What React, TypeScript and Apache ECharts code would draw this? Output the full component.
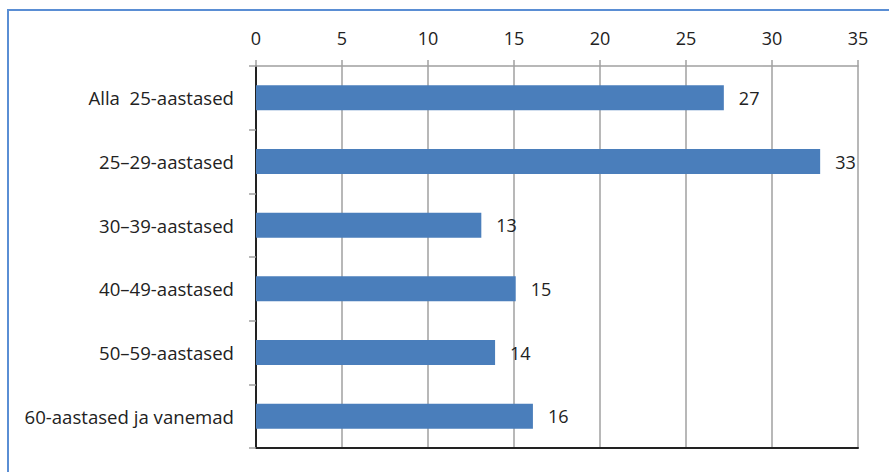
import React, { useEffect, useRef } from "react";
import * as echarts from "echarts";

const categories = [
  "Alla  25-aastased",
  "25–29-aastased",
  "30–39-aastased",
  "40–49-aastased",
  "50–59-aastased",
  "60-aastased ja vanemad",
];
const values = [27.2, 32.8, 13.1, 15.1, 13.9, 16.1];
const axisMin = 0;
const axisMax = 35;
const axisStep = 5;

const FONT = "Open Sans";
const FS = 18;

export default function App() {
  const ref = useRef<HTMLDivElement>(null);
  useEffect(() => {
    if (!ref.current) return;
    const chart = echarts.init(ref.current, null, { renderer: "svg" });
    chart.setOption({
      animation: false,
      backgroundColor: "#ffffff",
      textStyle: { fontFamily: FONT },
      graphic: [
        {
          type: "rect",
          shape: { x: 8, y: 10, width: 1000, height: 1000 },
          style: { fill: "none", stroke: "#5A8ED4", lineWidth: 2 },
          silent: true,
        },
      ],
      grid: { left: 256, right: 31, top: 66, bottom: 24 },
      xAxis: [
        {
          type: "value",
          position: "top",
          min: axisMin,
          max: axisMax,
          interval: axisStep,
          axisLine: { show: true, lineStyle: { color: "#a0a0a0", width: 1.5 } },
          axisTick: { show: true, length: 6, inside: false, lineStyle: { color: "#a0a0a0", width: 1.5 } },
          splitLine: { show: true, lineStyle: { color: "#a0a0a0", width: 1.5 } },
          axisLabel: { fontFamily: FONT, fontSize: FS, color: "#222", margin: 19 },
        },
        {
          type: "value",
          position: "bottom",
          min: axisMin,
          max: axisMax,
          interval: axisStep,
          axisLine: { show: true, lineStyle: { color: "#222", width: 2 } },
          axisTick: { show: false },
          splitLine: { show: false },
          axisLabel: { show: false },
        },
      ],
      yAxis: [
        {
          type: "category",
          data: categories,
          inverse: true,
          axisLine: { show: true, lineStyle: { color: "#a0a0a0", width: 1.5 } },
          axisTick: { show: true, length: 7, lineStyle: { color: "#a0a0a0", width: 1.5 } },
          axisLabel: { fontFamily: FONT, fontSize: 18.6, color: "#222", margin: 22 },
          splitLine: { show: false },
        },
        {
          type: "category",
          data: categories,
          inverse: true,
          position: "right",
          axisLine: { show: true, lineStyle: { color: "#222", width: 2 } },
          axisTick: { show: false },
          axisLabel: { show: false },
          splitLine: { show: false },
        },
      ],
      series: [
        {
          type: "bar",
          data: values,
          xAxisIndex: 0,
          yAxisIndex: 0,
          barWidth: 25,
          itemStyle: { color: "#4A7EBB" },
          label: {
            show: true,
            position: "right",
            distance: 15,
            fontFamily: FONT,
            fontSize: FS,
            color: "#222",
            formatter: (p: any) => String(Math.round(p.value)),
          },
        },
      ],
    });
    return () => chart.dispose();
  }, []);
  return (
    <div
      ref={ref}
      style={{ position: "fixed", left: 0, top: 0, width: 889, height: 472 }}
    />
  );
}
